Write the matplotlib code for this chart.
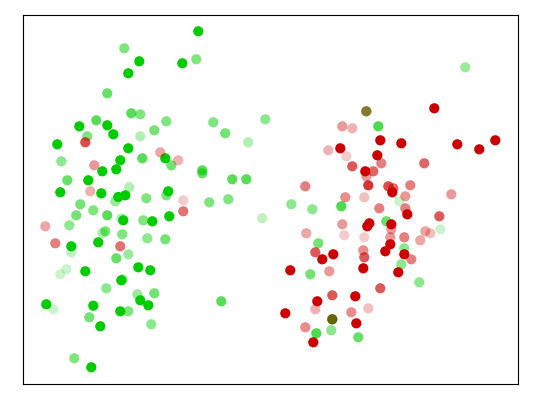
import matplotlib
matplotlib.use('Agg')
import matplotlib.pyplot as plt
import numpy as np

# values
green_x = [198.3, 139.3, 182.3, 128.3, 79.3, 107.3, 113.3, 57.3, 128.3, 165.3, 120.3, 116.3, 102.3, 88.3, 60.3, 101.3,
           118.3, 125.3, 168.3, 123.3, 152.3, 169.3, 98.3, 71.3, 138.3, 150.3, 85.3, 121.3, 140.3, 148.3, 93.3, 46.3,
           120.3, 100.3, 91.3,
           124.3, 196.3, 107.3, 131.3, 140.3, 96.3, 166.3, 213.3, 265.3, 154.3, 225.3, 87.3, 140.3, 248.3, 61.3,
           142.3, 171.3, 202.3, 202.3, 67.3, 232.3, 246.3, 129.3, 146.3, 166.3,
           80.3, 115.3, 209.3, 228.3, 76.3, 93.3, 107.3, 121.3, 143.3, 262.3, 69.3, 105.3, 102.3, 122.3, 147.3, 165.3,
           71.3, 128.3, 116.3, 66.3, 60.3, 122.7, 106.3, 137.3, 154.3, 221.3, 53.3, 128.3, 89.3, 151.3, 74.3,
           465.3, 378.3, 291.3, 312.3, 341.3, 399.3, 386.3, 440.3, 318.3, 404.3, 401.3, 310.3, 419.3, 331.3, 316.3,
           358.3, 366.3, 332.3]
green_y = [31.3, 61.3, 63.3, 73.3, 126.3, 125.3, 134.3, 144.3, 148.3, 158.3, 160.3, 169.3, 171.3, 180.3, 192.3, 193.3,
           197.0, 195.3, 191.3, 220.3, 221.3, 216.3, 242.3, 246.3, 267.3, 270.3, 271.3, 280.3, 300.3, 305.3, 305.7, 304.3,
           311.3, 326.3, 367.3,
           48.3, 59.3, 93.3, 113.3, 114.3, 120.3, 121.3, 122.3, 119.3, 130.3, 133.3, 136.3, 136.3, 142.3, 161.3,
           158.3, 165.3, 170.3, 173.3, 180.3, 179.3, 179.3, 187.3, 198.3, 195.3,
           204.3, 201.3, 202.3, 199.3, 215.3, 210.3, 215.3, 218.3, 220.3, 218.3, 225.3, 231.3, 233.0, 234.3, 238.3, 239.3,
           252.3, 254.3, 258.3, 269.3, 274.3, 279.3, 288.3, 294.3, 293.3, 301.3, 309.3, 311.3, 317.3, 324.3, 358.3,
           67.3, 126.3, 204.3, 209.3, 206.3, 201.3, 221.3, 229.3, 243.3, 248.3, 264.3, 274.3, 282.3, 330.3, 333.3,
           337.3, 111.3, 319.3]
green_alpha = [1] * 35 + [
    .5, .5, .6, .65, .5, .65, .5, .5, .45, .55, .55, .5, .3, .3, .45,
    .65, .55, .65, .6, .6, .65, .65, .3, .5, .5,
    .55, .4, .5, .5, .55, .5, .65, .3, .5, .25, .45, .55, .3, .5, .45, .55,
    .25, .4, .6, .2, .2, .4, .45, .4, .55, .65, .2, .5, .55, .45, .5,
    .4, .7, .45, .45, .7, .2, .6, .2, .55, .45, .45, .55, .45, .45, .7,
    .6, .68, 1]

red_x = [434.3, 380.3, 401.3, 457.3, 495.3, 479.3, 340.3, 377.3, 365.3, 392.3, 407.3, 369.3, 367.3, 391.3, 390.3,
         385.3, 404.3, 333.3, 322.3, 290.3, 363.3, 398.3, 317.3, 355.3, 285.3, 356.3, 313.3,
         85.3, 160.3, 178.3, 94.3, 90.3, 183.3, 183.3, 45.3, 55.3, 120.3,
         342.3, 352.3, 328.3, 346.3, 352.3, 381.3, 373.3, 424.3, 366.3, 368.3, 305.3, 388.3, 393.3, 410.3, 345.3,
         364.3, 405.3, 451.3, 379.3, 405.3, 439.3, 342.3, 306.3, 344.3, 364.3, 391.3, 390.3, 404.3, 425.3, 430.3,
         420.3, 315.3, 363.3, 364.3, 411.3, 329.3, 380.3, 332.3, 315.3, 368.3, 351.3, 305.3, 366.3, 332.3]
red_y = [108.3, 140.3, 143.3, 144.3, 140.3, 149.3, 148.3, 155.3, 171.3, 192.3, 214.3, 223.3, 226.3, 224.3, 244.3,
         251.3, 254.3, 254.3, 259.3, 270.3, 268.3, 272.3, 301.3, 296.3, 313.3, 323.3, 342.3,
         142.3, 152.3, 160.3, 165.3, 191.3, 200.3, 211.3, 226.3, 243.3, 246.3,
         126.3, 128.3, 150.3, 156.3, 166.3, 163.3, 171.3, 163.3, 176.3, 185.3, 186.3, 186.3, 188.3, 185.3, 197.3,
         197.3, 196.3, 194.3, 208.3, 208.3, 216.3, 224.3, 233.3, 235.3, 237.3, 229.3, 237.3, 237.3, 231.3, 233.3,
         240.3, 252.3, 250.3, 257.3, 259.3, 271.3, 288.3, 295.3, 309.3, 308.3, 312.3, 327.3, 111.3, 319.3]
red_alpha = [1] * 27 + [
    .7, .35, .3, .4, .3, .2, .55, .35, .5, .55,
    .4, .3, .3, .2, .65, .5, .6, .6, .4, .8, .5, .7, .6, .5, .45,
    .25, .4, .4, .5, .5, .65, .4, .35, .2, .2, .4, .4, .5, .35, .25,
    .35, .65, .45, .65, .5, .4, .65, .65, .3, .25, .45, .45, .46, .5]

GREEN = (0.0, 0.8, 0.0)
RED = (0.8, 0.0, 0.0)


def rgba(color, alpha):
    return [(*color, a) for a in alpha]


fig = plt.figure(figsize=(5.4, 4), dpi=100)
ax = fig.add_axes([23 / 540, 16 / 400, 495 / 540, 369 / 400])

# green goes first, the olive points come from red lying over it
ax.scatter(green_x, green_y, s=54, c=rgba(GREEN, green_alpha), linewidths=0)
ax.scatter(red_x, red_y, s=54, c=rgba(RED, red_alpha), linewidths=0)

ax.set_xlim(23, 518)
ax.set_ylim(384, 15)
ax.set_xticks([])
ax.set_yticks([])

plt.savefig('out.png', dpi=100)
